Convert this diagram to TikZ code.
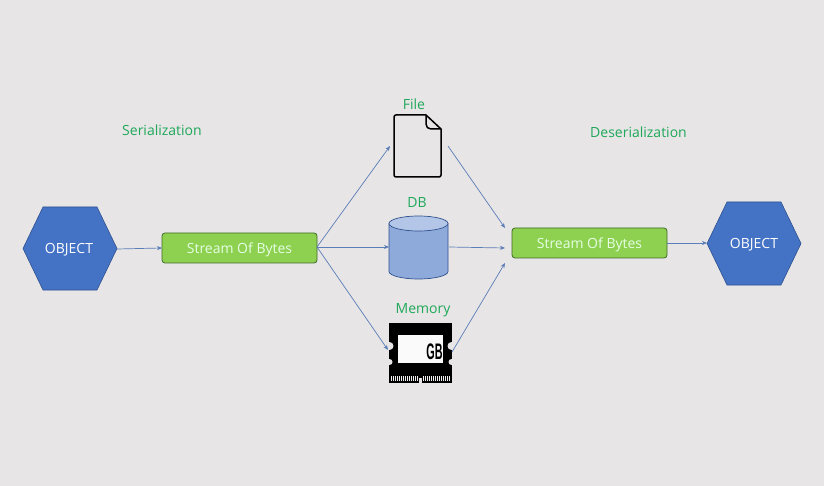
\documentclass[tikz,border=0pt]{standalone}
\usepackage{fontspec}
\setmainfont{Open Sans}
\newfontfamily\gbfont{Liberation Sans}
\usetikzlibrary{arrows.meta}
\definecolor{bgc}{HTML}{E7E5E6}
\definecolor{hexfill}{HTML}{4472C4}
\definecolor{hexline}{HTML}{2F528F}
\definecolor{boxfill}{HTML}{8ED04F}
\definecolor{boxline}{HTML}{3F6B2A}
\definecolor{labelgreen}{HTML}{1FA85A}
\definecolor{dbfill}{HTML}{8EAADB}
\definecolor{dbtop}{HTML}{B4C6E7}
\definecolor{arrowc}{HTML}{5B7DB8}
\tikzset{
  x=1pt,y=-1pt,
  hexshape/.style={fill=hexfill,draw=hexline,line width=.6pt},
  hextext/.style={text=white,font=\fontsize{14}{16}\selectfont,inner sep=0pt},
  streambox/.style={draw=boxline,fill=boxfill,rounded corners=3pt,line width=.8pt,minimum width=155pt,minimum height=30pt,inner sep=0pt,text=white!90!green,font=\fontsize{14}{16}\selectfont,text height=11pt,text depth=0pt},
  greenlabel/.style={text=labelgreen,inner sep=0pt,font=\fontsize{14}{16}\selectfont},
  conn/.style={draw=arrowc,line width=.7pt,-{Stealth[length=5pt,width=4pt,fill=hexline]}},
  holder/.style={inner sep=0pt,minimum width=0pt,minimum height=0pt},
}
\begin{document}
\begin{tikzpicture}
\useasboundingbox (0,0) rectangle (824,486);
\fill[bgc] (0,0) rectangle (824,486);
% hexagons
\path[hexshape] (23,248.5) -- (43,207) -- (97,207) -- (117,248.5) -- (97,290) -- (43,290) -- cycle;
\node[hextext] (objA) at (69,249.5) {OBJECT};
\path[hexshape] (707,243.5) -- (727,202) -- (781,202) -- (801,243.5) -- (781,285) -- (727,285) -- cycle;
\node[hextext] (objB) at (754,244.5) {OBJECT};
\coordinate (objAout) at (117,249);
\coordinate (objBin) at (707,243);
% stream boxes
\node[streambox] (streamA) at (239.5,248) {Stream Of Bytes};
\node[streambox] (streamB) at (589.5,243) {Stream Of Bytes};
% file
\draw[black,line width=1.5pt,line join=round,rounded corners=2pt]
  (426,115) -- (394,115) -- (394,177) -- (441,177) -- (441,129);
\draw[black,line width=1.5pt,line join=round] (426,115) -- (441,129) -- (431,129) .. controls (428,129) and (426,127) .. (426,124) -- cycle;
\node[holder] (file) at (417.5,146) {};
% DB
\draw[hexline,line width=.7pt,fill=dbfill] (389,223.5) -- (389,271.5) arc[start angle=180,end angle=0,x radius=29.5,y radius=7.5] -- (448,223.5);
\draw[hexline,line width=.7pt,fill=dbtop] (418.5,223.5) ellipse[x radius=29.5,y radius=7.5];
\node[holder] (db) at (418.5,247) {};
% memory
\fill[black] (389,323) rectangle (452,383);
\fill[white!96!gray] (398,335) rectangle (443,363);
\foreach \yy/\rr in {346/4,362/3}{
  \fill[bgc] (389.5,\yy) circle[radius=\rr];
  \fill[bgc] (451.5,\yy) circle[radius=\rr];
}
\fill[bgc] (419,378) rectangle (421.5,384);
\foreach \t in {391,393,...,417,423,425,...,449}{
  \fill[white!90!gray] (\t,375.5) rectangle (\t+1,381);
}
\node[inner sep=0pt,text=black,font=\gbfont\bfseries\fontsize{15}{15}\selectfont,xscale=.72,yscale=1.5] (gb) at (434.5,352) {GB};
\node[holder] (ram) at (420.5,353) {};
% labels
\node[greenlabel] (lblSer) at (162,130) {Serialization};
\node[greenlabel] (lblDes) at (638.5,132) {Deserialization};
\node[greenlabel] (lblFile) at (414,104) {File};
\node[greenlabel] (lblDB) at (417,203) {DB};
\node[greenlabel] (lblMem) at (423,310) {Memory};
% connector ends
\coordinate (fileIn) at (390,146);
\coordinate (fileOut) at (448,146);
\coordinate (dbIn) at (389,247);
\coordinate (dbOut) at (449,247);
\coordinate (ramIn) at (388,350);
\coordinate (ramOut) at (452,352);
\coordinate (sA) at (317,247);
\coordinate (sB1) at (505,228);
\coordinate (sB2) at (505,248);
\coordinate (sB3) at (505,263);
\coordinate (streamBin) at (162,248);
\coordinate (streamBout) at (667,243);
% connectors
\draw[conn] (objAout) -- (streamBin);
\draw[conn] (sA) -- (fileIn);
\draw[conn] (sA) -- (dbIn);
\draw[conn] (sA) -- (ramIn);
\draw[conn] (fileOut) -- (sB1);
\draw[conn] (dbOut) -- (sB2);
\draw[conn] (ramOut) -- (sB3);
\draw[conn] (streamBout) -- (objBin);
\end{tikzpicture}
\end{document}
